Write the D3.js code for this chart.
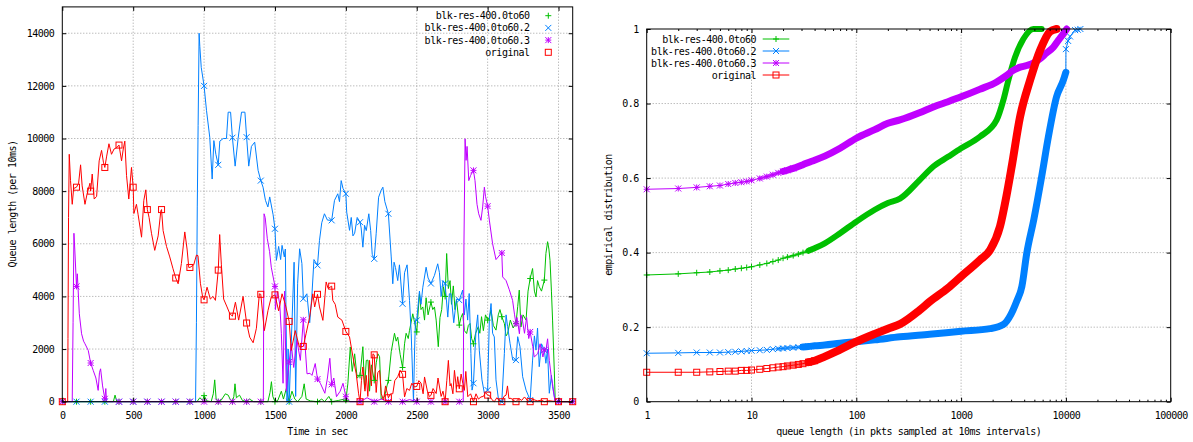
<!DOCTYPE html>
<html><head><meta charset="utf-8">
<script src="https://cdn.jsdelivr.net/npm/d3@7"></script>
<style>
body{margin:0;background:#fff}
text{font-family:"DejaVu Sans Mono",monospace;font-size:10px;letter-spacing:-0.5px;fill:#000}
</style>
</head><body>
<svg id="c" width="1193" height="442"></svg>
<script>
// ---------------- DATA ----------------
const seriesNames = ["blk-res-400.0to60","blk-res-400.0to60.2","blk-res-400.0to60.3","original"];
const timeTicks = [0,500,1000,1500,2000,2500,3000,3500];
const queueTicks = [0,2000,4000,6000,8000,10000,12000,14000];
const lenTicks = [1,10,100,1000,10000,100000];
const probTicks = [0,0.2,0.4,0.6,0.8,1];

// queue length over time: [sec, pkts per 10ms]
const queueGreen = [[0,0],[100,0],[200,0],[300,0],[360,0],[372,250],[385,0],[400,0],[500,0],[600,0],[700,0],[800,0],[900,0],[950,0],[970,150],[990,50],[1000,230],[1020,30],[1050,0],[1065,300],[1075,830],[1085,100],[1100,0],[1120,50],[1150,300],[1170,250],[1185,80],[1200,0],[1210,200],[1218,680],[1228,150],[1250,250],[1270,50],[1300,0],[1320,100],[1350,0],[1400,0],[1450,0],[1465,350],[1475,760],[1485,200],[1500,0],[1520,50],[1545,400],[1560,100],[1580,500],[1600,0],[1620,400],[1640,100],[1660,0],[1690,200],[1706,680],[1720,100],[1750,30],[1800,0],[1830,100],[1850,0],[1880,200],[1900,0],[1950,50],[1990,100],[2000,50],[2014,680],[2031,2080],[2045,1150],[2062,1820],[2080,900],[2100,1000],[2120,2090],[2132,500],[2144,1570],[2156,1580],[2167,400],[2180,1400],[2200,810],[2215,1500],[2226,1820],[2238,1710],[2249,100],[2273,200],[2290,600],[2300,810],[2320,1900],[2343,2600],[2355,2300],[2366,2450],[2383,1800],[2400,1300],[2414,2200],[2425,2600],[2440,2400],[2449,2710],[2472,3340],[2485,3000],[2500,2650],[2519,4100],[2530,3500],[2543,3600],[2555,3100],[2566,3950],[2580,3300],[2600,3785],[2613,3500],[2625,3600],[2637,3100],[2652,2090],[2664,3200],[2676,3500],[2688,4370],[2700,4000],[2711,5630],[2723,4300],[2735,4600],[2745,3700],[2758,4400],[2770,3500],[2781,3850],[2800,2910],[2812,3200],[2824,3350],[2836,2700],[2852,2590],[2864,2900],[2876,2970],[2887,2400],[2900,2200],[2915,2600],[2934,2850],[2945,2600],[2957,3230],[2970,2700],[2985,3300],[3000,3100],[3012,3200],[3024,3480],[3040,2900],[3059,2720],[3075,3300],[3087,3500],[3100,3230],[3118,2970],[3130,2500],[3141,2590],[3160,3100],[3180,2800],[3200,2975],[3212,3610],[3223,4240],[3235,2840],[3250,3300],[3271,3100],[3285,4200],[3300,4680],[3317,5060],[3330,4200],[3341,3980],[3352,4600],[3364,4370],[3380,4200],[3400,4620],[3411,5630],[3423,6080],[3432,5800],[3440,5370],[3450,4200],[3458,3100],[3470,1200],[3477,0],[3500,0],[3600,0]];

const queueBlue = [[0,0],[100,0],[200,0],[300,0],[400,0],[500,0],[600,0],[700,0],[800,0],[900,0],[940,0],[946,3000],[952,7400],[958,10500],[965,14000],[970,13500],[980,12700],[1000,12000],[1017,11070],[1040,10050],[1057,8460],[1069,9920],[1083,9400],[1100,9000],[1111,9900],[1135,10000],[1158,10000],[1170,11000],[1187,11000],[1200,10030],[1219,8950],[1240,10000],[1264,11000],[1288,11000],[1300,10050],[1315,8950],[1334,9700],[1357,9860],[1381,8790],[1400,8400],[1416,8150],[1433,7650],[1450,7400],[1463,7780],[1487,7100],[1500,6570],[1510,5370],[1526,5900],[1540,5400],[1550,5940],[1566,5500],[1573,5800],[1585,0],[1593,2000],[1600,0],[1620,3000],[1635,5300],[1646,200],[1660,4500],[1674,5810],[1690,5250],[1700,3910],[1725,4100],[1745,3000],[1760,4000],[1775,5400],[1800,5180],[1814,6130],[1830,6800],[1849,7140],[1870,6900],[1900,6890],[1920,7650],[1943,7900],[1955,7600],[1967,8400],[1980,8100],[2000,7900],[2006,7200],[2026,6510],[2038,7000],[2050,6300],[2062,6400],[2080,7000],[2100,6820],[2108,6600],[2120,5870],[2132,6700],[2144,6500],[2162,7140],[2175,6500],[2186,5600],[2200,5430],[2214,6400],[2231,7770],[2249,8030],[2261,8150],[2275,7600],[2300,7140],[2320,5500],[2331,4480],[2340,5300],[2350,5100],[2366,4600],[2378,5200],[2400,3720],[2414,4900],[2432,5200],[2449,3850],[2461,2580],[2477,0],[2485,2000],[2491,3100],[2500,3090],[2519,4200],[2530,3700],[2543,4350],[2566,5110],[2580,4700],[2600,4490],[2625,4800],[2648,5240],[2660,4900],[2672,4000],[2685,4600],[2700,4490],[2719,3215],[2730,4100],[2742,4100],[2761,3000],[2780,3900],[2800,3860],[2824,4240],[2836,3300],[2847,3900],[2859,3100],[2870,4110],[2882,1830],[2890,440],[2900,700],[2918,2720],[2930,3300],[2941,1960],[2960,830],[2977,320],[3000,440],[3012,3100],[3024,3730],[3035,2600],[3047,2460],[3059,830],[3077,60],[3100,0],[3118,1830],[3130,3300],[3141,2850],[3158,2220],[3177,1580],[3200,1580],[3212,2470],[3228,2090],[3247,950],[3271,440],[3300,60],[3317,1580],[3330,2500],[3341,1960],[3352,2800],[3364,1330],[3380,2200],[3400,1960],[3411,1460],[3422,2000],[3435,320],[3450,1000],[3458,570],[3477,0],[3500,0],[3600,0]];

const queuePurple = [[0,0],[60,0],[70,0],[76,3000],[82,6400],[88,5800],[100,4380],[106,4860],[120,3340],[136,2580],[150,2300],[160,2200],[183,1950],[200,1470],[218,1190],[237,900],[253,430],[262,1100],[270,1250],[284,600],[300,110],[307,500],[312,0],[400,0],[500,0],[600,0],[700,0],[800,0],[900,0],[1000,0],[1100,0],[1200,0],[1300,0],[1400,0],[1418,0],[1423,7140],[1431,7000],[1446,6190],[1462,5700],[1474,5110],[1500,4380],[1503,3500],[1517,4200],[1534,3700],[1545,2600],[1557,700],[1568,4200],[1580,400],[1600,1510],[1615,2200],[1632,1300],[1655,2330],[1679,1570],[1700,3110],[1714,2000],[1726,1060],[1747,1080],[1761,1000],[1784,1450],[1800,860],[1820,700],[1852,320],[1870,900],[1887,1650],[1900,660],[1915,900],[1934,190],[1960,400],[1980,700],[2000,190],[2028,0],[2100,0],[2150,150],[2200,0],[2250,100],[2300,0],[2400,0],[2450,80],[2500,0],[2600,0],[2700,0],[2800,0],[2828,0],[2833,6000],[2841,9990],[2848,9170],[2855,9700],[2867,8400],[2880,8600],[2900,8790],[2911,8400],[2925,7500],[2937,7140],[2953,6890],[2965,7400],[2977,8150],[2985,7800],[3000,7430],[3012,6900],[3035,6000],[3059,5400],[3082,5550],[3100,5650],[3106,4740],[3130,4600],[3153,4250],[3176,3850],[3190,3300],[3200,2960],[3207,3200],[3224,2580],[3235,3300],[3247,3050],[3260,2600],[3275,3200],[3290,2400],[3300,2650],[3318,2100],[3329,1700],[3353,1820],[3370,2200],[3390,1700],[3400,1970],[3411,1950],[3423,2390],[3435,1570],[3450,900],[3458,680],[3475,0],[3500,0],[3600,0]];

const queueRed = [[0,0],[20,0],[38,0],[40,2400],[44,7000],[49,9400],[58,8400],[70,7500],[80,8100],[100,8150],[115,8300],[129,9000],[140,8200],[160,7500],[175,7900],[195,8300],[200,8000],[211,8650],[225,7700],[242,7800],[260,9150],[277,9550],[290,9100],[300,8900],[312,9300],[329,9800],[347,9400],[365,9600],[383,9650],[400,9750],[418,9150],[430,9600],[441,9900],[453,8600],[469,7700],[488,8900],[500,8150],[505,7150],[523,7500],[535,7100],[559,6250],[575,7650],[589,8050],[600,7300],[612,7000],[629,6400],[652,5750],[676,6300],[695,7250],[700,7300],[711,6500],[735,5900],[758,5500],[781,5050],[800,4700],[817,4480],[840,5250],[864,6450],[880,5800],[892,5100],[900,5100],[927,5200],[946,5570],[957,5550],[974,4500],[990,3970],[1000,3870],[1021,4350],[1044,3900],[1063,4000],[1080,3850],[1100,5000],[1110,6350],[1122,5200],[1138,3900],[1162,3600],[1181,3350],[1200,3250],[1221,3780],[1244,3100],[1275,4000],[1300,2990],[1322,2450],[1346,2240],[1369,2790],[1390,4100],[1400,4080],[1425,2700],[1451,3470],[1474,3980],[1500,4060],[1526,3450],[1550,4100],[1573,3700],[1600,3050],[1615,1950],[1643,2700],[1672,2080],[1700,2100],[1720,2600],[1744,3200],[1767,4100],[1780,3600],[1800,4080],[1814,3600],[1838,3090],[1861,4550],[1875,4300],[1900,4390],[1908,3850],[1925,3700],[1943,3215],[1972,3100],[2000,2670],[2026,2460],[2050,1700],[2073,1060],[2090,300],[2100,0],[2110,800],[2120,1320],[2135,400],[2144,1000],[2155,200],[2167,1570],[2180,600],[2191,1820],[2200,1780],[2214,350],[2225,1100],[2238,1190],[2250,300],[2266,60],[2280,600],[2300,150],[2315,300],[2331,300],[2345,800],[2366,950],[2383,1190],[2400,1040],[2414,180],[2430,500],[2449,430],[2465,700],[2484,560],[2500,580],[2515,800],[2531,700],[2545,300],[2555,940],[2575,400],[2590,190],[2600,240],[2615,500],[2637,310],[2650,900],[2672,200],[2685,400],[2700,0],[2712,800],[2723,1570],[2735,600],[2742,690],[2755,300],[2766,1190],[2780,500],[2789,950],[2800,490],[2813,1050],[2825,700],[2836,430],[2846,1150],[2860,190],[2880,300],[2900,0],[2918,300],[2935,100],[2953,180],[2970,200],[2985,350],[3000,250],[3012,240],[3030,80],[3047,0],[3065,150],[3080,50],[3100,0],[3115,200],[3130,250],[3140,600],[3150,120],[3165,130],[3180,50],[3200,0],[3220,120],[3240,50],[3260,180],[3280,50],[3300,0],[3320,90],[3350,30],[3380,60],[3400,0],[3430,40],[3460,20],[3500,0],[3550,0],[3600,0]];

// empirical CDF: [queue length, cumulative fraction]
const cdfGreen = [[1,0.340],[2,0.343],[3,0.346],[4,0.348],[5,0.351],[6,0.353],[7,0.356],[8,0.358],[9,0.360],[10,0.362],[12,0.367],[14,0.371],[16,0.376],[18,0.380],[20,0.385],[22,0.388],[25,0.392],[28,0.396],[31,0.400],[35,0.405],[40,0.412],[50,0.425],[70,0.452],[100,0.483],[150,0.515],[200,0.533],[261,0.545],[400,0.594],[543,0.631],[750,0.657],[1000,0.680],[1510,0.711],[2186,0.756],[2530,0.809],[2820,0.862],[3270,0.924],[3925,0.973],[4885,1.0],[5870,1.0]];
const cdfBlue = [[1,0.130],[2,0.131],[3,0.132],[4,0.132],[5,0.132],[6,0.133],[7,0.134],[8,0.135],[9,0.136],[10,0.137],[12,0.138],[14,0.139],[16,0.141],[18,0.142],[20,0.143],[22,0.144],[25,0.145],[28,0.146],[31,0.147],[35,0.148],[40,0.150],[50,0.152],[70,0.157],[100,0.161],[150,0.166],[261,0.174],[500,0.181],[1000,0.189],[1890,0.196],[2530,0.207],[3000,0.235],[3400,0.270],[3800,0.309],[4230,0.398],[4950,0.490],[5870,0.604],[6810,0.711],[8140,0.818],[9440,0.862],[9990,0.884],[10010,0.946],[10500,0.968],[10950,0.980],[12250,0.997],[13000,0.998],[13750,1.0]];
const cdfPurple = [[1,0.570],[2,0.572],[3,0.575],[4,0.578],[5,0.580],[6,0.584],[7,0.587],[8,0.589],[9,0.591],[10,0.594],[12,0.599],[14,0.604],[16,0.609],[18,0.614],[20,0.618],[22,0.621],[25,0.626],[28,0.631],[31,0.636],[35,0.642],[40,0.648],[50,0.659],[70,0.680],[100,0.707],[150,0.730],[200,0.747],[261,0.756],[400,0.775],[543,0.791],[750,0.805],[1000,0.818],[1500,0.838],[2186,0.858],[2700,0.875],[3150,0.889],[3600,0.897],[4225,0.902],[5000,0.910],[5660,0.920],[6500,0.935],[7590,0.951],[8500,0.970],[9440,0.987],[10180,1.0]];
const cdfRed = [[1,0.079],[2,0.079],[3,0.079],[4,0.080],[5,0.081],[6,0.082],[7,0.082],[8,0.084],[9,0.084],[10,0.085],[12,0.087],[14,0.089],[16,0.091],[18,0.093],[20,0.094],[22,0.096],[25,0.098],[28,0.100],[31,0.102],[35,0.106],[40,0.110],[50,0.121],[70,0.140],[100,0.161],[150,0.182],[200,0.196],[261,0.208],[400,0.245],[505,0.269],[750,0.305],[1000,0.336],[1510,0.380],[1890,0.407],[2350,0.470],[2700,0.550],[3040,0.631],[3650,0.764],[4545,0.862],[5660,0.942],[7045,0.993],[8140,1.0]];

// ---------------- STYLE ----------------
const styles = [
  {color:"#00c000", marker:"plus",   bandFrom:35, bandTo:1e9, band:6},
  {color:"#0080ff", marker:"cross",  bandFrom:30, bandTo:9990, band:7},
  {color:"#c000ff", marker:"star",   bandFrom:20, bandTo:1e9, band:7},
  {color:"#ff0000", marker:"square", bandFrom:35, bandTo:1e9, band:8}
];
const queueSeries = [queueGreen, queueBlue, queuePurple, queueRed];
const cdfSeries = [cdfGreen, cdfBlue, cdfPurple, cdfRed];

const svg = d3.select("#c");
const gridColor = "#a0a0a0";

function drawMarker(g, type, x, y, color, s){
  s = s || 3;
  if(type==="square"){
    g.append("rect").attr("x",x-s).attr("y",y-s).attr("width",2*s).attr("height",2*s)
      .attr("fill","none").attr("stroke",color).attr("stroke-width",1);
    return;
  }
  let d = "";
  if(type==="plus"||type==="star") d += `M${x-s},${y}H${x+s}M${x},${y-s}V${y+s}`;
  if(type==="cross"||type==="star") d += `M${x-s},${y-s}L${x+s},${y+s}M${x-s},${y+s}L${x+s},${y-s}`;
  g.append("path").attr("d",d).attr("stroke",color).attr("stroke-width",1).attr("fill","none");
}

function frame(g, x, y, xt, yt){
  const [x0,x1] = x.range(), [y0,y1] = y.range();
  const grid = g.append("g");
  xt.forEach(v=>{ if(x(v)>x0+0.5 && x(v)<x1-0.5) grid.append("line").attr("x1",x(v)).attr("x2",x(v)).attr("y1",y0).attr("y2",y1)
      .attr("stroke",gridColor).attr("stroke-dasharray","1,2"); });
  yt.forEach(v=>{ if(y(v)<y0-0.5 && y(v)>y1+0.5) grid.append("line").attr("x1",x0).attr("x2",x1).attr("y1",y(v)).attr("y2",y(v))
      .attr("stroke",gridColor).attr("stroke-dasharray","1,2"); });
}

function axesOn(g, x, y, xt, yt, xfmt, yfmt, minorX){
  const [x0,x1] = x.range(), [y0,y1] = y.range();
  const mk = (axis, tx, ty) => {
    const a = g.append("g").attr("transform",`translate(${tx},${ty})`).call(axis);
    a.select(".domain").remove();
    a.selectAll("line").attr("stroke","#000");
    a.selectAll("text").style("font-family","DejaVu Sans Mono, monospace").style("font-size","10px").attr("fill","#000");
    return a;
  };
  mk(d3.axisBottom(x).tickValues(xt).tickSize(-4).tickPadding(10).tickFormat(xfmt), 0, y0);
  mk(d3.axisTop(x).tickValues(xt).tickSize(-4).tickFormat(""), 0, y1);
  mk(d3.axisLeft(y).tickValues(yt).tickSize(-4).tickPadding(8).tickFormat(yfmt), x0, 0);
  mk(d3.axisRight(y).tickValues(yt).tickSize(-4).tickFormat(""), x1, 0);
  if(minorX){
    mk(d3.axisBottom(x).tickValues(minorX).tickSize(-2).tickFormat(""), 0, y0);
    mk(d3.axisTop(x).tickValues(minorX).tickSize(-2).tickFormat(""), 0, y1);
  }
  g.append("rect").attr("x",x0).attr("y",y1).attr("width",x1-x0).attr("height",y0-y1)
    .attr("fill","none").attr("stroke","#000").attr("stroke-width",1);
}

// ---------------- LEFT CHART ----------------
const xL = d3.scaleLinear().domain([0,3600]).range([62.3,572.7]);
const yL = d3.scaleLinear().domain([0,15000]).range([401.7,6.9]);
const gL = svg.append("g");
frame(gL, xL, yL, timeTicks, queueTicks);
const lineL = d3.line().x(d=>xL(d[0])).y(d=>yL(d[1]));
queueSeries.forEach((s,i)=>{
  gL.append("path").attr("d",lineL(s)).attr("fill","none").attr("stroke",styles[i].color).attr("stroke-width",1);
});
queueSeries.forEach((s,i)=>{
  const mg = gL.append("g");
  s.filter(d=>d[0]%100===0).forEach(d=>drawMarker(mg, styles[i].marker, xL(d[0]), yL(d[1]), styles[i].color, 3));
});
axesOn(gL, xL, yL, timeTicks, queueTicks, d3.format("d"), d3.format("d"));
gL.append("text").attr("x",(62.3+572.7)/2).attr("y",435).attr("text-anchor","middle").text("Time in sec");
gL.append("text").attr("transform","translate(16,204) rotate(-90)").attr("text-anchor","middle").text("Queue length (per 10ms)");
const legL = gL.append("g");
seriesNames.forEach((n,i)=>{
  const yy = 15.7 + i*12.2;
  legL.append("text").attr("x",529.5).attr("y",yy+3.5).attr("text-anchor","end").text(n);
  drawMarker(legL, styles[i].marker, 548.3, yy, styles[i].color, 3);
});

// ---------------- RIGHT CHART ----------------
const xR = d3.scaleLog().domain([1,100000]).range([646.7,1170.7]);
const yR = d3.scaleLinear().domain([0,1]).range([401.7,29]);
const gR = svg.append("g");
frame(gR, xR, yR, lenTicks, probTicks);
const minorR = xR.ticks().filter(v=>!lenTicks.includes(v));
const lineR = d3.line().x(d=>xR(d[0])).y(d=>yR(d[1]));
const bandLine = d3.line().curve(d3.curveMonotoneX).x(d=>xR(d[0])).y(d=>yR(d[1]));
cdfSeries.forEach((s,i)=>{
  const st = styles[i];
  const g = gR.append("g");
  g.append("path").attr("d",lineR(s)).attr("fill","none").attr("stroke",st.color).attr("stroke-width",1);
  // thinner lead-in where the markers start to merge
  const lead = s.filter(d=>d[0]>=st.bandFrom*0.6 && d[0]<=st.bandFrom*1.6);
  g.append("path").attr("d",bandLine(lead)).attr("fill","none").attr("stroke",st.color)
    .attr("stroke-width",st.band-3).attr("stroke-opacity",0.6).attr("stroke-linecap","round");
  const band = s.filter(d=>d[0]>=st.bandFrom && d[0]<=st.bandTo);
  g.append("path").attr("d",bandLine(band))
    .attr("fill","none").attr("stroke",st.color).attr("stroke-width",st.band)
    .attr("stroke-linecap","round").attr("stroke-linejoin","round");
  s.filter(d=>d[0]<=st.bandFrom*1.3 || d[0]>st.bandTo).forEach(d=>drawMarker(g, st.marker, xR(d[0]), yR(d[1]), st.color, 3));
});
axesOn(gR, xR, yR, lenTicks, probTicks, d3.format("d"), d=>d3.format("~g")(d), minorR);
gR.append("text").attr("x",(646.7+1170.7)/2).attr("y",435).attr("text-anchor","middle").text("queue length (in pkts sampled at 10ms intervals)");
gR.append("text").attr("transform","translate(612,215) rotate(-90)").attr("text-anchor","middle").text("empirical distribution");
const legR = gR.append("g");
seriesNames.forEach((n,i)=>{
  const yy = 39 + i*12;
  legR.append("text").attr("x",756).attr("y",yy+3.5).attr("text-anchor","end").text(n);
  legR.append("line").attr("x1",762.7).attr("x2",789.3).attr("y1",yy).attr("y2",yy).attr("stroke",styles[i].color);
  drawMarker(legR, styles[i].marker, 776, yy, styles[i].color, 3);
});
</script>
</body></html>
